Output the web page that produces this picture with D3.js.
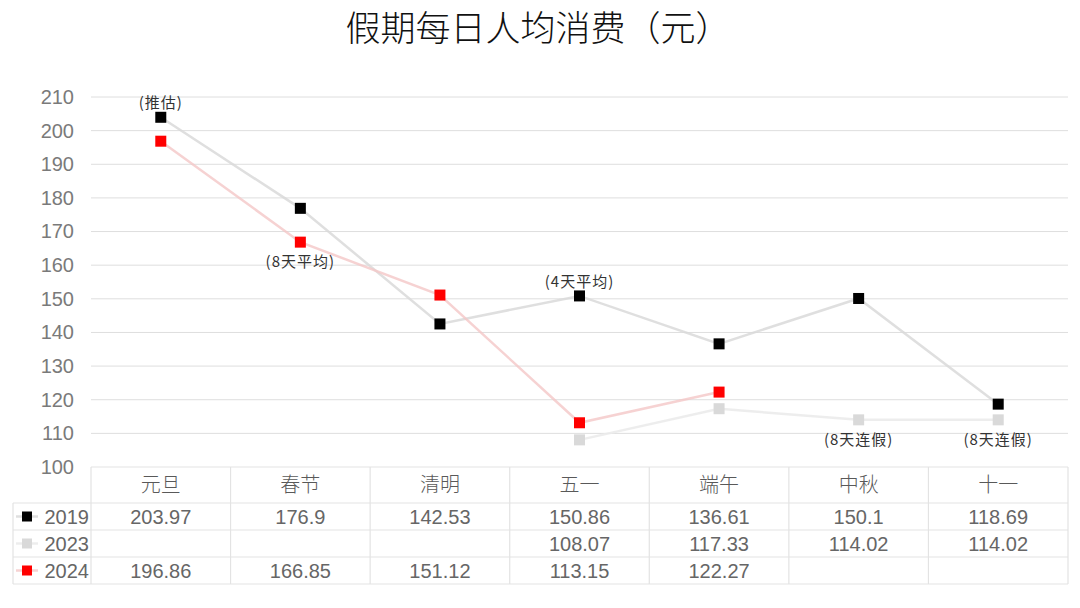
<!DOCTYPE html>
<html>
<head>
<meta charset="utf-8">
<script src="https://cdn.jsdelivr.net/npm/d3@7"></script>
<style>
  html, body { margin: 0; padding: 0; background: #ffffff; }
  svg { display: block; font-family: "Liberation Sans", "Noto Sans CJK SC", sans-serif; }
</style>
</head>
<body>
<svg id="chart" width="1080" height="608"></svg>
<script>
// Holidays along the x axis
const categories = ["元旦", "春节", "清明", "五一", "端午", "中秋", "十一"];
// Average daily spending per person (yuan); null = no data
const values2019 = [203.97, 176.9, 142.53, 150.86, 136.61, 150.1, 118.69];
const values2023 = [null, null, null, 108.07, 117.33, 114.02, 114.02];
const values2024 = [196.86, 166.85, 151.12, 113.15, 122.27, null, null];
const seriesNames = ["2019", "2023", "2024"];
const yTicks = [100, 110, 120, 130, 140, 150, 160, 170, 180, 190, 200, 210];
// Notes attached to individual points: [series, category index, text, above?]
const notes = [
  ["2019", 0, "(推估)", true],
  ["2024", 1, "(8天平均)", false],
  ["2019", 3, "(4天平均)", true],
  ["2023", 5, "(8天连假)", false],
  ["2023", 6, "(8天连假)", false]
];

const series = [
  { name: seriesNames[0], values: values2019, marker: "#000000", line: "#d9d9d9", lineOpacity: 0.85 },
  { name: seriesNames[1], values: values2023, marker: "#d9d9d9", line: "#ebebeb", lineOpacity: 0.9 },
  { name: seriesNames[2], values: values2024, marker: "#ff0000", line: "#f4c7c7", lineOpacity: 0.8 }
];

const svg = d3.select("#chart");
const plotLeft = 91, plotRight = 1068, plotTop = 97, plotBottom = 467;

const x = d3.scaleBand().domain(categories).range([plotLeft, plotRight]).padding(0);
const y = d3.scaleLinear().domain([100, 210]).range([plotBottom, plotTop]);
const cx = c => x(c) + x.bandwidth() / 2;

// Title
svg.append("text")
  .attr("x", 538).attr("y", 41)
  .attr("text-anchor", "middle")
  .attr("font-family", "Noto Sans CJK SC, sans-serif")
  .attr("font-size", 35)
  .attr("font-weight", 300)
  .attr("fill", "#111111")
  .text("假期每日人均消费（元）");

// Horizontal gridlines
svg.append("g")
  .selectAll("line")
  .data(yTicks.filter(t => t > 100))
  .join("line")
  .attr("x1", plotLeft).attr("x2", plotRight)
  .attr("y1", d => y(d)).attr("y2", d => y(d))
  .attr("stroke", "#dedede").attr("stroke-width", 1);

// Y axis labels
const yAxis = d3.axisLeft(y).tickValues(yTicks).tickSize(0).tickPadding(0);
const yg = svg.append("g").attr("transform", `translate(${plotLeft - 17},0)`).call(yAxis);
yg.select(".domain").remove();
yg.selectAll("text")
  .attr("font-size", 20)
  .attr("fill", "#7a7a7a")
  .attr("font-family", "Liberation Sans, sans-serif");

// Lines
const lineGen = d3.line()
  .defined(d => d.v !== null)
  .x(d => cx(d.c))
  .y(d => y(d.v));

series.forEach(s => {
  const pts = categories.map((c, i) => ({ c, v: s.values[i] }));
  svg.append("path")
    .datum(pts)
    .attr("d", lineGen)
    .attr("fill", "none")
    .attr("stroke", s.line)
    .attr("stroke-opacity", s.lineOpacity)
    .attr("stroke-width", 2.5);
});

// Markers (2023 drawn first, then 2024, then 2019 on top)
const ms = 11;
[series[1], series[2], series[0]].forEach(s => {
  const pts = categories.map((c, i) => ({ c, v: s.values[i] })).filter(d => d.v !== null);
  svg.append("g")
    .selectAll("rect")
    .data(pts)
    .join("rect")
    .attr("x", d => cx(d.c) - ms / 2)
    .attr("y", d => y(d.v) - ms / 2)
    .attr("width", ms).attr("height", ms)
    .attr("fill", s.marker);
});

// Point notes
notes.forEach(([name, idx, text, above]) => {
  const s = series.find(d => d.name === name);
  const v = s.values[idx];
  svg.append("text")
    .attr("x", cx(categories[idx]))
    .attr("y", above ? y(v) - 9 : y(v) + 25)
    .attr("text-anchor", "middle")
    .attr("font-family", "Noto Sans CJK SC, sans-serif")
    .attr("font-size", 15)
    .attr("letter-spacing", 1)
    .attr("fill", "#333333")
    .text(text);
});

// Data table below the chart
const rowTop = 467, headH = 36, rowH = 27, legendLeft = 13;
const tableBottom = rowTop + headH + rowH * series.length;
const grid = svg.append("g").attr("stroke", "#e3e3e3").attr("stroke-width", 1.2);

// horizontal rules
grid.append("line").attr("x1", plotLeft).attr("x2", plotRight).attr("y1", rowTop).attr("y2", rowTop);
for (let i = 0; i <= series.length; i++) {
  const yy = rowTop + headH + rowH * i;
  grid.append("line").attr("x1", legendLeft).attr("x2", plotRight).attr("y1", yy).attr("y2", yy);
}
// vertical rules
grid.append("line").attr("x1", legendLeft).attr("x2", legendLeft).attr("y1", rowTop + headH).attr("y2", tableBottom);
categories.forEach(c => {
  grid.append("line").attr("x1", x(c)).attr("x2", x(c)).attr("y1", rowTop).attr("y2", tableBottom);
});
grid.append("line").attr("x1", plotRight).attr("x2", plotRight).attr("y1", rowTop).attr("y2", tableBottom);

// header
svg.append("g")
  .selectAll("text")
  .data(categories)
  .join("text")
  .attr("x", d => cx(d))
  .attr("y", rowTop + headH / 2 + 7)
  .attr("text-anchor", "middle")
  .attr("font-family", "Noto Sans CJK SC, sans-serif")
  .attr("font-size", 20)
  .attr("font-weight", 300)
  .attr("fill", "#595959")
  .text(d => d);

// rows
series.forEach((s, r) => {
  const cy = rowTop + headH + rowH * r + rowH / 2;
  // legend key: short line + marker
  svg.append("line")
    .attr("x1", 16).attr("x2", 38).attr("y1", cy).attr("y2", cy)
    .attr("stroke", s.line).attr("stroke-width", 2.5).attr("stroke-opacity", s.lineOpacity);
  svg.append("rect")
    .attr("x", 22).attr("y", cy - 5).attr("width", 10).attr("height", 10)
    .attr("fill", s.marker);
  svg.append("text")
    .attr("x", 89).attr("y", cy + 7)
    .attr("text-anchor", "end")
    .attr("font-size", 20)
    .attr("fill", "#666666")
    .text(s.name);
  svg.append("g")
    .selectAll("text")
    .data(categories.map((c, i) => ({ c, v: s.values[i] })).filter(d => d.v !== null))
    .join("text")
    .attr("x", d => cx(d.c))
    .attr("y", cy + 7)
    .attr("text-anchor", "middle")
    .attr("font-size", 20)
    .attr("fill", "#666666")
    .text(d => String(d.v));
});
</script>
</body>
</html>
